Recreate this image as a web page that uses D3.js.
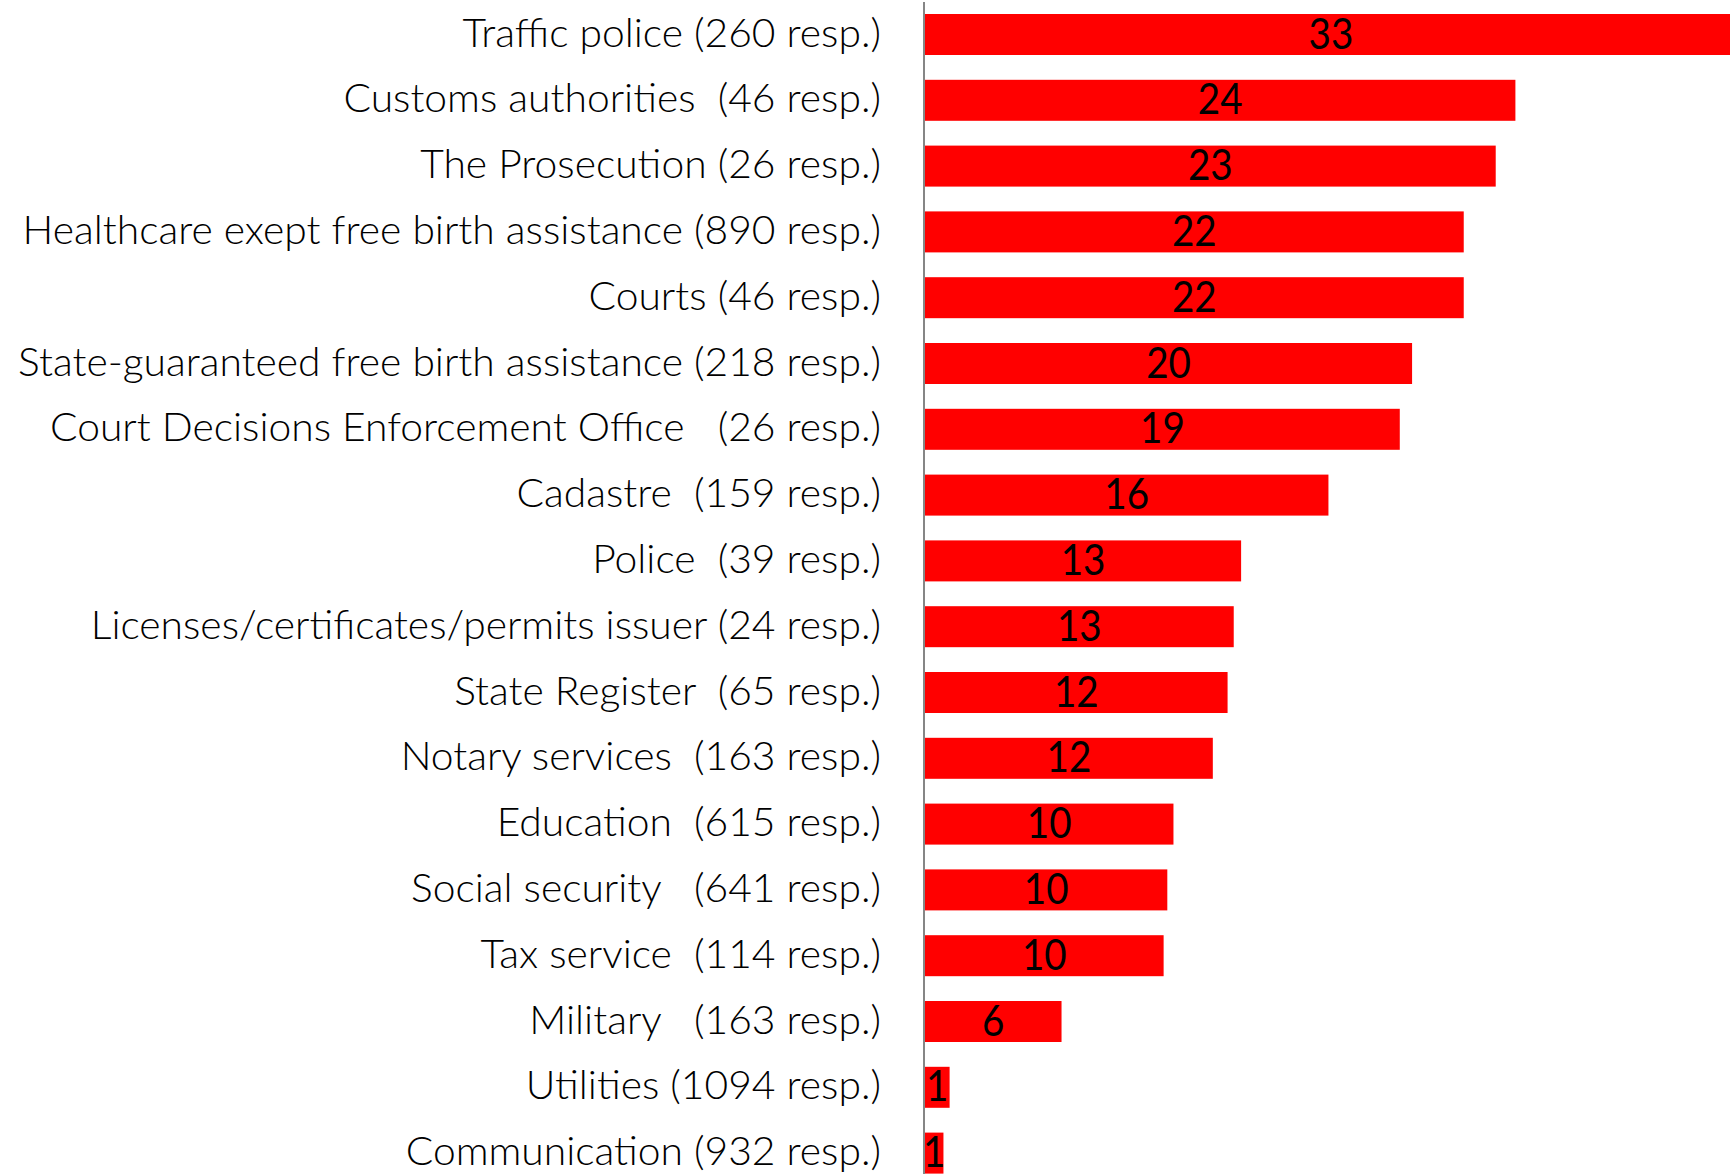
<html>
<head>
<script src="https://d3js.org/d3.v7.min.js"></script>
<style>
  body { margin: 0; background: #fff; }
  text { font-family: Lato, "Open Sans", sans-serif; white-space: pre; }
</style>
</head>
<body>
<script>
// categories, top to bottom, as written on the chart
var categories = [
  "Traffic police (260 resp.)",
  "Customs authorities  (46 resp.)",
  "The Prosecution (26 resp.)",
  "Healthcare exept free birth assistance (890 resp.)",
  "Courts (46 resp.)",
  "State-guaranteed free birth assistance (218 resp.)",
  "Court Decisions Enforcement Office   (26 resp.)",
  "Cadastre  (159 resp.)",
  "Police  (39 resp.)",
  "Licenses/certificates/permits issuer (24 resp.)",
  "State Register  (65 resp.)",
  "Notary services  (163 resp.)",
  "Education  (615 resp.)",
  "Social security   (641 resp.)",
  "Tax service  (114 resp.)",
  "Military   (163 resp.)",
  "Utilities (1094 resp.)",
  "Communication (932 resp.)"
];

// bar lengths (labels show them rounded)
var shares = [33, 24.0, 23.2, 21.9, 21.9, 19.8, 19.3, 16.4, 12.85, 12.55,
              12.3, 11.7, 10.1, 9.85, 9.7, 5.55, 1.0, 0.75];

var width = 1730, height = 1174;
var axisX = 924;

var svg = d3.select("body").append("svg")
    .attr("width", width)
    .attr("height", height);

var x = d3.scaleLinear()
    .domain([0, 35])
    .range([axisX + 1, axisX + 1 + 35 * 24.6]);

var y = d3.scaleBand()
    .domain(categories)
    .range([1.6, 1.6 + 18 * 65.8])
    .paddingInner(0.377)
    .paddingOuter(0.1885);

var rows = categories.map((c, i) => ({cat: c, v: shares[i]}));

svg.append("g")
    .selectAll("rect")
    .data(rows).enter()
    .append("rect")
    .attr("x", x(0))
    .attr("y", d => y(d.cat))
    .attr("width", d => x(d.v) - x(0))
    .attr("height", y.bandwidth())
    .attr("fill", "#ff0000");

// category labels
svg.append("g")
    .selectAll("text")
    .data(rows).enter()
    .append("text")
    .attr("transform", d => "translate(881," + (y(d.cat) + y.bandwidth() / 2 + 12) + ") scale(1.02,1)")
    .attr("text-anchor", "end")
    .attr("font-size", 40)
    .attr("font-weight", 300)
    .attr("fill", "#000")
    .text(d => d.cat);

// value labels, centred in bars
svg.append("g")
    .selectAll("text")
    .data(rows).enter()
    .append("text")
    .attr("transform", d => "translate(" + ((x(0) + x(d.v)) / 2) + "," + (y(d.cat) + y.bandwidth() / 2 + 14) + ") scale(0.92,1)")
    .attr("text-anchor", "middle")
    .attr("font-size", 42)
    .attr("font-weight", 400)
    .attr("fill", "#000")
    .text(d => Math.round(d.v));

// vertical axis line
svg.append("line")
    .attr("x1", axisX).attr("x2", axisX)
    .attr("y1", 2).attr("y2", height)
    .attr("stroke", "#868686")
    .attr("stroke-width", 2);
</script>
</body>
</html>
